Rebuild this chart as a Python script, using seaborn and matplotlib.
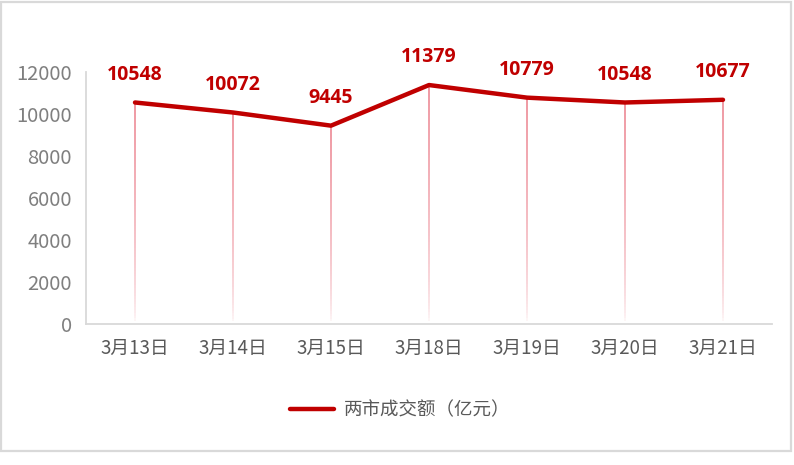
import numpy as np
import pandas as pd
import seaborn as sns
import matplotlib.pyplot as plt
from matplotlib.collections import LineCollection
from matplotlib.patches import Rectangle
from matplotlib.colors import to_rgba

# data
dates = ["3月13日", "3月14日", "3月15日", "3月18日", "3月19日", "3月20日", "3月21日"]
turnover = [10548, 10072, 9445, 11379, 10779, 10548, 10677]
series_name = "两市成交额（亿元）"
y_ticks = [0, 2000, 4000, 6000, 8000, 10000, 12000]

RED = "#C00000"
GREY = "#7f7f7f"
SPINE = "#d9d9d9"

sns.set_theme(style="white")
plt.rcParams['font.family'] = ['Noto Sans CJK SC', 'DejaVu Sans']

df = pd.DataFrame({"date": dates, "value": turnover, "series": series_name})

fig = plt.figure(figsize=(7.94, 4.65), dpi=100)
ax = fig.add_axes([86 / 794, 1 - 324 / 465, (772 - 86) / 794, (324 - 72) / 465])

# gradient drop lines from each point down to zero
pink = np.array(to_rgba("#ef98a2"))
for i, v in enumerate(turnover):
    ys = np.linspace(0, v, 80)
    segs = [[(i, ys[k]), (i, ys[k + 1])] for k in range(len(ys) - 1)]
    cols = []
    for k in range(len(ys) - 1):
        t = (k / (len(ys) - 2)) ** 0.55
        c = pink.copy()
        c[3] = t
        cols.append(c)
    ax.add_collection(LineCollection(segs, colors=cols, linewidths=1.4, zorder=1))

sns.lineplot(data=df, x="date", y="value", hue="series", palette=[RED],
             linewidth=3.2, ax=ax, zorder=3)

for i, v in enumerate(turnover):
    ax.annotate(f"{v}", (i, v), xytext=(0, 20), textcoords="offset points",
                ha="center", va="center", color=RED, fontsize=14,
                fontweight="bold", family=['Open Sans', 'DejaVu Sans'])

ax.set_xlim(-0.5, len(dates) - 0.5)
ax.set_ylim(0, 12000)
ax.set_yticks(y_ticks)
ax.set_xlabel("")
ax.set_ylabel("")
ax.tick_params(axis="y", length=0, pad=10, labelsize=14.5, labelcolor=GREY)
ax.tick_params(axis="x", length=0, pad=10, labelsize=13.5, labelcolor="#595959")
for s in ["top", "right"]:
    ax.spines[s].set_visible(False)
for s in ["left", "bottom"]:
    ax.spines[s].set_color(SPINE)
    ax.spines[s].set_linewidth(1.3)

ax.legend_.remove()
handles, labels = ax.get_legend_handles_labels()
fig.legend(handles, labels, loc="center", bbox_to_anchor=(400 / 794, 1 - 410 / 465),
           frameon=False, fontsize=13.3, handlelength=2.4, handletextpad=0.5,
           labelcolor="#595959")

fig.patches.append(Rectangle((1 / 794, 1 - 451 / 465), 790 / 794, 449 / 465,
                             transform=fig.transFigure, fill=False,
                             edgecolor=SPINE, linewidth=1.6))

fig.savefig("out.png", dpi=100)
